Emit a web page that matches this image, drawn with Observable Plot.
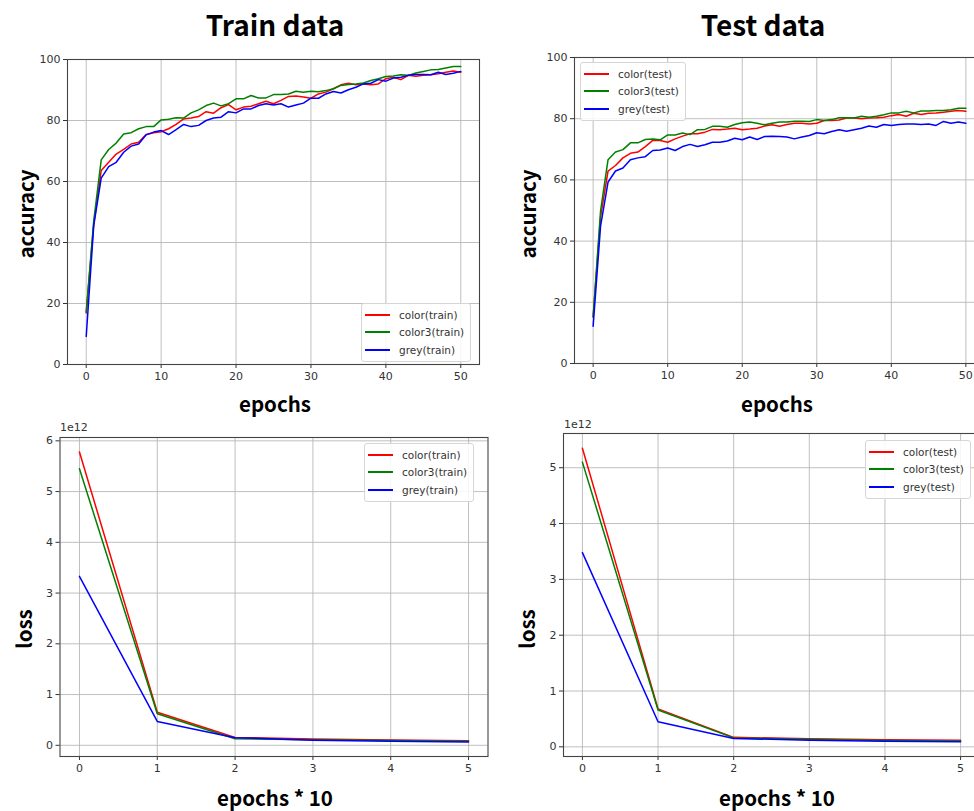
<!DOCTYPE html>
<html>
<head>
<meta charset="utf-8">
<script src="https://cdn.jsdelivr.net/npm/d3@7"></script>
<script src="https://cdn.jsdelivr.net/npm/@observablehq/plot@0.6"></script>
<style>
  html, body { margin: 0; padding: 0; background: #fff; overflow: hidden; }
  #root { position: relative; width: 974px; height: 811px; overflow: hidden; font-family: "DejaVu Sans", sans-serif; }
  .panel { position: absolute; }
  .panel svg { max-width: none !important; display: block; }
  .title { position: absolute; font-family: "Noto Sans CJK KR", "Noto Sans", sans-serif; font-weight: 700; font-size: 28px; color: #000; transform: translate(-50%, -50%); white-space: nowrap; }
  .xlab { position: absolute; font-family: "Noto Sans CJK KR", "Noto Sans", sans-serif; font-weight: 700; font-size: 20.5px; color: #000; transform: translate(-50%, -50%); white-space: nowrap; }
  .ylab { position: absolute; font-family: "Noto Sans CJK KR", "Noto Sans", sans-serif; font-weight: 700; font-size: 20.5px; color: #000; transform: translate(-50%, -50%) rotate(-90deg); white-space: nowrap; }
  .offset { position: absolute; font-family: "DejaVu Sans", sans-serif; font-size: 11px; color: #333; }
  .legend { position: absolute; background: rgba(255,255,255,0.85); border: 1px solid #d6d6d6; border-radius: 3px; padding: 2px 6px 2px 3px; font-family: "DejaVu Sans", sans-serif; font-size: 10.5px; color: #333; }
  .legend .row { display: flex; align-items: center; height: 17.5px; }
  .legend .sw { width: 25px; height: 0; border-top: 2px solid; margin-right: 9px; }
</style>
</head>
<body>
<div id="root"></div>
<script>
// ---------------- data ----------------
const seriesNames = ["color", "color3", "grey"];
const seriesColors = ["#ff0000", "#008000", "#0000ff"];

// accuracy per epoch (0..50), train
const accTrainColor = [16.9, 46, 63.6, 66.3, 69, 70.5, 72.3, 72.9, 75.4, 76, 76.3, 77.3, 78.7, 80.5, 80.8, 81.3, 82.9, 82.4, 84.2, 85.2, 83.5, 84.4, 84.7, 85.5, 86.3, 85.5, 86.6, 87.9, 88, 87.7, 87.3, 88.7, 89.3, 90.4, 91.7, 92.2, 91.7, 92, 91.7, 92, 93.7, 94.2, 93.4, 94.8, 94.5, 94.8, 95, 95.3, 95.8, 96.2, 95.8];
const accTrainColor3 = [17.2, 47, 67.1, 70.5, 72.6, 75.6, 76, 77.3, 78, 78, 80.2, 80.4, 80.9, 80.8, 82.5, 83.5, 84.9, 85.7, 84.8, 85.5, 87.1, 87.1, 88.2, 87.4, 87.4, 88.5, 88.5, 88.7, 89.6, 89.3, 89.6, 89.4, 89.8, 90.4, 91.5, 91.8, 92, 92.3, 93.1, 93.7, 94.4, 94.6, 95, 94.8, 95.6, 96.1, 96.6, 96.7, 97.2, 97.7, 97.7];
const accTrainGrey = [9.2, 45.5, 61.1, 64.9, 66.3, 69.6, 71.6, 72.3, 75.3, 76.2, 76.7, 75.4, 77, 78.7, 78, 78.4, 80, 80.8, 81.1, 82.9, 82.5, 83.8, 83.8, 84.9, 85.5, 85.1, 85.5, 84.4, 85.1, 85.7, 87.3, 87.3, 88.7, 89.5, 89, 90.1, 90.9, 92, 92.2, 93.4, 92.9, 93.9, 94.2, 94.8, 95.1, 95.1, 95, 95.8, 95.1, 95.5, 96.1];

// accuracy per epoch (0..50), test
const accTestColor = [15.1, 48, 62.9, 64.7, 67.2, 68.7, 69.1, 70.9, 72.9, 72.9, 72.3, 73.4, 74.3, 75.1, 75.1, 75.6, 76.5, 76.4, 76.6, 76.9, 76.4, 76.6, 76.9, 77.6, 78, 77.5, 78.1, 78.5, 78.5, 78.3, 78.5, 79.4, 79.4, 79.6, 80.2, 80.2, 80, 80.2, 80.3, 80.5, 81, 81.4, 80.8, 81.8, 81.4, 81.8, 81.9, 82.1, 82.4, 82.7, 82.4];
const accTestColor3 = [15.3, 50, 66.6, 69.1, 69.9, 72.1, 72.1, 73.2, 73.4, 73.1, 74.7, 74.7, 75.3, 74.8, 76.4, 76.5, 77.5, 77.5, 77.2, 78.1, 78.7, 78.9, 78.5, 78, 78.5, 78.9, 78.9, 79.2, 79.2, 79.1, 79.7, 79.4, 79.7, 80.3, 80.3, 80.2, 80.8, 80.5, 80.8, 81.3, 81.9, 81.9, 82.4, 81.9, 82.5, 82.5, 82.7, 82.7, 82.9, 83.4, 83.4];
const accTestGrey = [12.2, 45, 59.3, 62.9, 63.9, 66.6, 67.2, 67.6, 69.6, 69.8, 70.4, 69.6, 70.9, 71.6, 70.9, 71.5, 72.3, 72.3, 72.7, 73.6, 73.1, 74, 73.2, 74.2, 74.3, 74.2, 74, 73.4, 74, 74.5, 75.4, 75.1, 75.8, 76.4, 75.9, 76.4, 76.9, 77.6, 77.2, 78.1, 77.8, 78.1, 78.3, 78.3, 78.1, 78.3, 77.8, 79.1, 78.5, 78.9, 78.5];

// loss per checkpoint (epochs * 10 = 0..5), in units of 1e12
const lossTrainColor = [5.78, 0.65, 0.155, 0.125, 0.105, 0.09];
const lossTrainColor3 = [5.45, 0.62, 0.13, 0.11, 0.095, 0.08];
const lossTrainGrey = [3.33, 0.47, 0.15, 0.10, 0.08, 0.065];

const lossTestColor = [5.35, 0.68, 0.17, 0.145, 0.125, 0.12];
const lossTestColor3 = [5.10, 0.66, 0.16, 0.135, 0.115, 0.105];
const lossTestGrey = [3.48, 0.45, 0.15, 0.12, 0.10, 0.09];

const accXTicks = [0, 10, 20, 30, 40, 50];
const accYTicks = [0, 20, 40, 60, 80, 100];
const lossXTicks = [0, 1, 2, 3, 4, 5];
const lossTrainYTicks = [0, 1, 2, 3, 4, 5, 6];
const lossTestYTicks = [0, 1, 2, 3, 4, 5];

// ---------------- helpers ----------------
const root = document.getElementById("root");

function toRows(arr) { return arr.map((v, i) => ({x: i, y: v})); }

function padded(extent, frac) {
  const d = extent[1] - extent[0];
  return [extent[0] - d * frac, extent[1] + d * frac];
}

function panel({series, xDomain, yDomain, xTicks, yTicks, left, top, width, height, margins}) {
  const gridStyle = {stroke: "#b8b8b8", strokeOpacity: 1, strokeWidth: 0.9};
  const marks = [
    Plot.gridX(xTicks, gridStyle),
    Plot.gridY(yTicks, gridStyle),
    ...series.map((s, k) => Plot.line(toRows(s), {x: "x", y: "y", stroke: seriesColors[k], strokeWidth: 1.5})),
    Plot.axisX(xTicks, {tickSize: 4, tickPadding: 4, fontSize: 11, fill: "#333", stroke: "#333", label: null, tickFormat: d => String(d)}),
    Plot.axisY(yTicks, {tickSize: 4, tickPadding: 3, fontSize: 11, fill: "#333", stroke: "#333", label: null, tickFormat: d => String(d)}),
    Plot.frame({stroke: "#444", strokeWidth: 1.1})
  ];
  const svg = Plot.plot({
    width, height,
    marginLeft: margins[0], marginRight: margins[1], marginTop: margins[2], marginBottom: margins[3],
    x: {domain: xDomain},
    y: {domain: yDomain},
    style: {fontFamily: "DejaVu Sans, sans-serif", background: "transparent", overflow: "visible", maxWidth: "none"},
    marks
  });
  const wrap = document.createElement("div");
  wrap.className = "panel";
  wrap.style.left = left + "px";
  wrap.style.top = top + "px";
  wrap.style.width = width + "px";
  wrap.style.height = height + "px";
  wrap.appendChild(svg);
  root.appendChild(wrap);
}

function addText(cls, text, x, y) {
  const d = document.createElement("div");
  d.className = cls;
  d.textContent = text;
  d.style.left = x + "px";
  d.style.top = y + "px";
  root.appendChild(d);
}

function addLegend(labels, x, y) {
  const d = document.createElement("div");
  d.className = "legend";
  d.style.left = x + "px";
  d.style.top = y + "px";
  labels.forEach((lab, k) => {
    const row = document.createElement("div");
    row.className = "row";
    const sw = document.createElement("div");
    sw.className = "sw";
    sw.style.borderTopColor = seriesColors[k];
    const t = document.createElement("span");
    t.textContent = lab;
    row.appendChild(sw);
    row.appendChild(t);
    d.appendChild(row);
  });
  root.appendChild(d);
}

// ---------------- panels ----------------
// top-left: train accuracy
panel({
  series: [accTrainColor, accTrainColor3, accTrainGrey],
  xDomain: [-2.5, 52.5], yDomain: [0, 100],
  xTicks: accXTicks, yTicks: accYTicks,
  left: 0, top: 40, width: 490, height: 375,
  margins: [67, 11, 19, 51]
});
// top-right: test accuracy
panel({
  series: [accTestColor, accTestColor3, accTestGrey],
  xDomain: [-2.5, 52.5], yDomain: [0, 100],
  xTicks: accXTicks, yTicks: accYTicks,
  left: 500, top: 40, width: 490, height: 375,
  margins: [74, 6, 17, 52]
});
// bottom-left: train loss
const ltAll = [...lossTrainColor, ...lossTrainColor3, ...lossTrainGrey];
panel({
  series: [lossTrainColor, lossTrainColor3, lossTrainGrey],
  xDomain: [-0.25, 5.25], yDomain: padded(d3.extent(ltAll), 0.05),
  xTicks: lossXTicks, yTicks: lossTrainYTicks,
  left: 0, top: 420, width: 495, height: 365,
  margins: [59.5, 7.5, 17, 29]
});
// bottom-right: test loss
const lsAll = [...lossTestColor, ...lossTestColor3, ...lossTestGrey];
panel({
  series: [lossTestColor, lossTestColor3, lossTestGrey],
  xDomain: [-0.25, 5.25], yDomain: padded(d3.extent(lsAll), 0.05),
  xTicks: lossXTicks, yTicks: lossTestYTicks,
  left: 500, top: 420, width: 490, height: 365,
  margins: [63, 11, 13, 29]
});

// ---------------- texts ----------------
addText("title", "Train data", 275, 24);
addText("title", "Test data", 763, 24);
addText("ylab", "accuracy", 25, 214);
addText("ylab", "accuracy", 527, 214);
addText("xlab", "epochs", 275, 403);
addText("xlab", "epochs", 777, 403);
addText("ylab", "loss", 23, 629);
addText("ylab", "loss", 526, 629);
addText("xlab", "epochs * 10", 275, 797);
addText("xlab", "epochs * 10", 777, 797);
addText("offset", "1e12", 60, 421);
addText("offset", "1e12", 564, 418);

// ---------------- legends ----------------
addLegend(seriesNames.map(n => n + "(train)"), 361, 303);
addLegend(seriesNames.map(n => n + "(test)"), 580, 62);
addLegend(seriesNames.map(n => n + "(train)"), 364, 443);
addLegend(seriesNames.map(n => n + "(test)"), 865, 440);
</script>
</body>
</html>
